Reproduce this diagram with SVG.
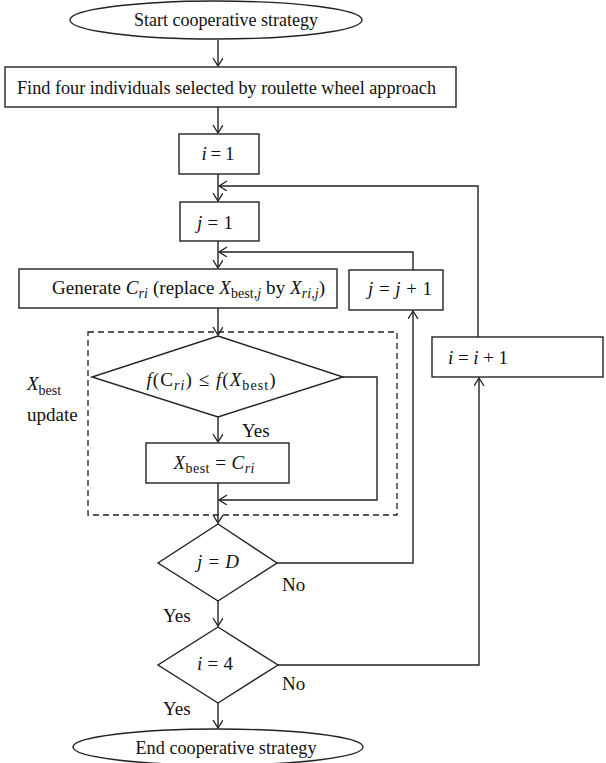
<svg xmlns="http://www.w3.org/2000/svg" width="606" height="763" viewBox="0 0 606 763">
<style>
.s{fill:#fff;stroke:#222;stroke-width:1.4}
.c{fill:none;stroke:#222;stroke-width:1.4}
.d{fill:none;stroke:#222;stroke-width:1.3;stroke-dasharray:6,4}
text{font-family:"Liberation Serif","Times New Roman",serif;font-size:19px;fill:#111}
.m{text-anchor:middle}
.i{font-style:italic}
.sub{font-size:14px}
</style>
<defs>
<marker id="a" markerUnits="userSpaceOnUse" markerWidth="12" markerHeight="12" refX="8" refY="5" orient="auto">
<path d="M0,0 L8,5 L0,10" fill="none" stroke="#222" stroke-width="1.3"/>
</marker>
</defs>
<rect width="606" height="763" fill="#fff"/>
<g id="connectors">
<path class="c" d="M218,40 V66" marker-end="url(#a)"/>
<path class="c" d="M218,107 V133" marker-end="url(#a)"/>
<path class="c" d="M218,174 V201" marker-end="url(#a)"/>
<path class="c" d="M478,337 V186 H219" marker-end="url(#a)"/>
<path class="c" d="M218,241 V268" marker-end="url(#a)"/>
<path class="c" d="M413,270 V252 H219" marker-end="url(#a)"/>
<path class="c" d="M218,308 V335" marker-end="url(#a)"/>
<path class="c" d="M218,417 V442" marker-end="url(#a)"/>
<path class="c" d="M343,377 H377 V500 H219" marker-end="url(#a)"/>
<path class="c" d="M218,483 V523" marker-end="url(#a)"/>
<path class="c" d="M277,563 H413 V311" marker-end="url(#a)"/>
<path class="c" d="M218,601 V626" marker-end="url(#a)"/>
<path class="c" d="M278,665 H479 V378" marker-end="url(#a)"/>
<path class="c" d="M218,703 V728" marker-end="url(#a)"/>
</g>
<g id="group_update">
<rect class="d" x="88" y="332" width="309" height="183"/>
<text x="27" y="390" class="i">X<tspan class="sub" dy="5" font-style="normal">best</tspan></text>
<text x="27" y="421">update</text>
</g>
<g id="start">
<ellipse class="s" cx="216" cy="20" rx="146" ry="19"/>
<text x="226" y="26" class="m" textLength="184" lengthAdjust="spacingAndGlyphs">Start cooperative strategy</text>
</g>
<g id="find">
<rect class="s" x="5" y="67" width="451" height="40"/>
<text x="17" y="94" textLength="419" lengthAdjust="spacingAndGlyphs">Find four individuals selected by roulette wheel approach</text>
</g>
<g id="i1">
<rect class="s" x="179" y="134" width="80" height="40"/>
<text x="218" y="160" class="m" textLength="33" lengthAdjust="spacing"><tspan class="i">i</tspan> = 1</text>
</g>
<g id="j1">
<rect class="s" x="180" y="202" width="79" height="39"/>
<text x="215" y="229" class="m" textLength="36" lengthAdjust="spacing"><tspan class="i">j</tspan> = 1</text>
</g>
<g id="generate">
<rect class="s" x="19" y="269" width="318" height="39"/>
<text x="52" y="294" textLength="273" lengthAdjust="spacing">Generate <tspan class="i">C</tspan><tspan class="sub i" dy="4">ri</tspan><tspan dy="-4"> (replace </tspan><tspan class="i">X</tspan><tspan class="sub" dy="4">best,</tspan><tspan class="sub i">j</tspan><tspan dy="-4"> by </tspan><tspan class="i">X</tspan><tspan class="sub i" dy="4">ri,j</tspan><tspan dy="-4">)</tspan></text>
</g>
<g id="jinc">
<rect class="s" x="349" y="270" width="94" height="40"/>
<text x="400" y="295" class="m" textLength="64" lengthAdjust="spacing"><tspan class="i">j</tspan> = <tspan class="i">j</tspan> + 1</text>
</g>
<g id="iinc">
<rect class="s" x="432" y="337" width="171" height="40"/>
<text x="478" y="364" class="m" textLength="60" lengthAdjust="spacing"><tspan class="i">i</tspan> = <tspan class="i">i</tspan> + 1</text>
</g>
<g id="cond_f">
<polygon class="s" points="218,336 343,377 218,417 92,377"/>
<text x="211" y="386" class="m" textLength="129" lengthAdjust="spacing"><tspan class="i">f</tspan>(C<tspan class="sub i" dy="4">ri</tspan><tspan dy="-4">) ≤ </tspan><tspan class="i">f</tspan>(<tspan class="i">X</tspan><tspan class="sub" dy="4">best</tspan><tspan dy="-4">)</tspan></text>
<text x="242" y="437">Yes</text>
</g>
<g id="xbest">
<rect class="s" x="146" y="443" width="143" height="40"/>
<text x="214" y="469" class="m" textLength="81" lengthAdjust="spacing"><tspan class="i">X</tspan><tspan class="sub" dy="4">best</tspan><tspan dy="-4"> = </tspan><tspan class="i">C</tspan><tspan class="sub i" dy="4">ri</tspan></text>
</g>
<g id="cond_jD">
<polygon class="s" points="218,524 277,563 218,601 158,563"/>
<text x="218" y="568" class="m" textLength="42" lengthAdjust="spacing"><tspan class="i">j</tspan> = <tspan class="i">D</tspan></text>
<text x="282" y="591">No</text>
<text x="163" y="622">Yes</text>
</g>
<g id="cond_i4">
<polygon class="s" points="218,627 278,665 218,703 158,665"/>
<text x="215" y="670" class="m" textLength="36" lengthAdjust="spacing"><tspan class="i">i</tspan> = 4</text>
<text x="282" y="690">No</text>
<text x="163" y="715">Yes</text>
</g>
<g id="end">
<ellipse class="s" cx="218" cy="747" rx="145" ry="18"/>
<text x="226" y="754" class="m" textLength="181" lengthAdjust="spacingAndGlyphs">End cooperative strategy</text>
</g>
</svg>
